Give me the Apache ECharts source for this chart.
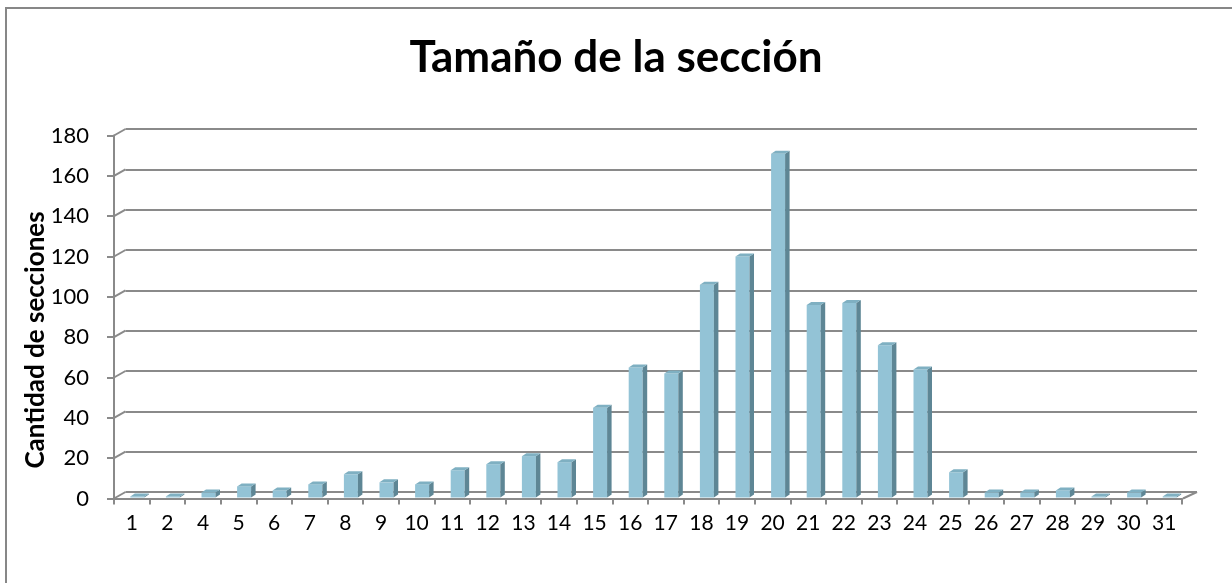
<!DOCTYPE html>
<html>
<head>
<meta charset="utf-8">
<script src="https://cdn.jsdelivr.net/npm/echarts@6/dist/echarts.min.js"></script>
<style>
html,body{margin:0;padding:0;background:#fff;}
#c{width:1232px;height:583px;}
</style>
</head>
<body>
<div id="c"></div>
<script>
const categories = ['1','2','4','5','6','7','8','9','10','11','12','13','14','15','16','17','18','19','20','21','22','23','24','25','26','27','28','29','30','31'];
const values = [1,1,3,6,4,7,12,8,7,14,17,21,18,45,65,62,106,120,171,96,97,76,64,13,3,3,4,1,3,1];
const yTicks = [0,20,40,60,80,100,120,140,160,180];
const titleText = 'Tamaño de la sección';
const yName = 'Cantidad de secciones';

const GRID = '#8a8a8a';
const DX = 11.5, DY = 6.5;
const chart = echarts.init(document.getElementById('c'), null, {renderer:'canvas'});
const barData = categories.map((c,i)=>[i, values[i]]);
const tickData = yTicks.map(v=>[0, v]);

chart.setOption({
  animation:false,
  backgroundColor:'#fff',
  title:{text:titleText,left:'center',top:31,
    textStyle:{fontFamily:'Lato',fontWeight:'bold',fontSize:44,color:'#000'}},
  graphic:[
    {type:'rect',shape:{x:6,y:8,width:1240,height:590},
      style:{fill:null,stroke:'#878787',lineWidth:2},silent:true,z:0},
    {type:'text',x:36,y:340,rotation:Math.PI/2,
      style:{text:yName,fontFamily:'Lato',fontWeight:'bold',fontSize:26,fill:'#000',
        align:'center',verticalAlign:'middle'},silent:true,z:10}
  ],
  grid:[
    {left:125.5,right:35,top:129,bottom:91},
    {left:114,right:50,top:135.5,bottom:84.5}
  ],
  xAxis:[
    {type:'category',gridIndex:0,data:categories,show:false},
    {type:'category',gridIndex:1,data:categories,
      axisLine:{show:true,lineStyle:{color:GRID,width:2}},
      axisTick:{show:true,length:6,lineStyle:{color:GRID,width:2}},
      axisLabel:{color:'#000',fontFamily:'Lato',fontSize:21,margin:14},
      splitLine:{show:false}}
  ],
  yAxis:[
    {type:'value',gridIndex:0,min:0,max:180,interval:20,
      axisLine:{show:false},axisTick:{show:false},axisLabel:{show:false},
      splitLine:{show:true,lineStyle:{color:GRID,width:2}}},
    {type:'value',gridIndex:1,min:0,max:180,interval:20,
      axisLine:{show:true,lineStyle:{color:GRID,width:2}},
      axisTick:{show:true,length:7,lineStyle:{color:GRID,width:2}},
      axisLabel:{color:'#000',fontFamily:'Lato',fontSize:22,margin:25},
      splitLine:{show:false}}
  ],
  series:[
    {type:'custom',xAxisIndex:0,yAxisIndex:0,data:tickData,silent:true,z:1,
      encode:{x:0,y:1},
      renderItem:function(params,api){
        const cs=params.coordSys;
        const v=api.value(1);
        const p=api.coord([0,v]);
        const ch=[{type:'line',shape:{x1:cs.x-DX,y1:p[1]+DY,x2:cs.x,y2:p[1]},
          style:{stroke:GRID,lineWidth:2}}];
        if(v===0){
          ch.push({type:'line',shape:{x1:cs.x+cs.width-14,y1:p[1]+DY,x2:cs.x+cs.width,y2:p[1]},
            style:{stroke:GRID,lineWidth:2}});
        }
        return {type:'group',children:ch};
      }},
    {type:'custom',xAxisIndex:1,yAxisIndex:1,data:barData,z:5,
      encode:{x:0,y:1},
      renderItem:function(params,api){
        const i=api.value(0), v=api.value(1);
        const top=api.coord([i,v]);
        const base=api.coord([i,0]);
        const x0=top[0]-1.5, w=14, dx=4.5, dy=3;
        const yb=base[1]-1, yt=top[1];
        return {type:'group',children:[
          {type:'rect',shape:{x:x0,y:yt,width:w,height:Math.max(yb-yt,0)},style:{fill:'#93c3d6'}},
          {type:'polygon',shape:{points:[[x0+w,yt],[x0+w+dx,yt-dy],[x0+w+dx,yb-dy],[x0+w,yb]]},style:{fill:'#5e8695'}},
          {type:'polygon',shape:{points:[[x0,yt],[x0+dx,yt-dy],[x0+w+dx,yt-dy],[x0+w,yt]]},style:{fill:'#7fb0c2'}}
        ]};
      }}
  ]
});
</script>
</body>
</html>
